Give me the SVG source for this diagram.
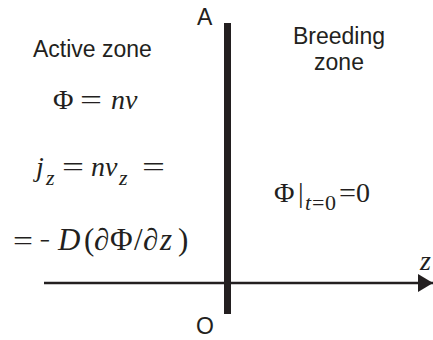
<svg xmlns="http://www.w3.org/2000/svg" width="433" height="340" viewBox="0 0 433 340">
<style>
.lbl{font-family:"Liberation Sans",Arial,sans-serif;font-size:23px;fill:#231f20}
.m{font-family:"Liberation Serif","Times New Roman",serif;font-size:28px;fill:#231f20}
.b{font-size:31px}
.i{font-style:italic}
.s{font-size:22px}
</style>
<defs>
<marker id="arr" markerWidth="16" markerHeight="20" refX="15" refY="9" orient="auto" markerUnits="userSpaceOnUse">
<path d="M0,0 L15,9 L0,18 Z" fill="#231f20"/>
</marker>
</defs>
<rect width="433" height="340" fill="#fff"/>
<g id="connectors">
<line x1="44" y1="283" x2="433" y2="283" stroke="#231f20" stroke-width="2.5" marker-end="url(#arr)"/>
</g>
<g id="barrier">
<rect x="224" y="23" width="7" height="291" fill="#231f20"/>
<text class="lbl" x="197" y="25">A</text>
<text class="lbl" x="196" y="334">O</text>
</g>
<g id="active-zone">
<text class="lbl" x="33" y="57">Active zone</text>
<text class="m" x="53" y="109">Φ</text>
<text class="m" x="80" y="109" textLength="22" lengthAdjust="spacingAndGlyphs">=</text>
<text class="m i" x="111" y="109">nv</text>
<text class="m i" x="36" y="176">j</text>
<text class="m i s" x="46" y="185">z</text>
<text class="m" x="62" y="176" textLength="22" lengthAdjust="spacingAndGlyphs">=</text>
<text class="m i" x="91" y="176">nv</text>
<text class="m i s" x="119" y="185">z</text>
<text class="m" x="142" y="176" textLength="23" lengthAdjust="spacingAndGlyphs">=</text>
<text class="m" x="13" y="250" textLength="20" lengthAdjust="spacingAndGlyphs">=</text>
<text class="m" x="40" y="250" textLength="10" lengthAdjust="spacingAndGlyphs">−</text>
<text class="m b i" x="58" y="250">D</text>
<text class="m b" x="84" y="250">(</text>
<text class="m b" x="94" y="250">∂</text>
<text class="m b" x="110" y="250">Φ</text>
<text class="m b" x="134" y="250">/</text>
<text class="m b" x="143" y="250">∂</text>
<text class="m b i" x="160" y="250">z</text>
<text class="m b" x="178" y="250">)</text>
</g>
<g id="breeding-zone">
<text class="lbl" x="339" y="44" text-anchor="middle">Breeding</text>
<text class="lbl" x="339" y="70" text-anchor="middle">zone</text>
<text class="m" x="274" y="202">Φ</text>
<text class="m" x="298" y="202">|</text>
<text class="m i s" x="305" y="210">t</text>
<text class="m s" x="312" y="210">=</text>
<text class="m s" x="325" y="210">0</text>
<text class="m" x="339" y="202" textLength="17" lengthAdjust="spacingAndGlyphs">=</text>
<text class="m" x="356" y="202">0</text>
</g>
<g id="axis-label">
<text class="m i" x="420" y="270">z</text>
</g>
</svg>
